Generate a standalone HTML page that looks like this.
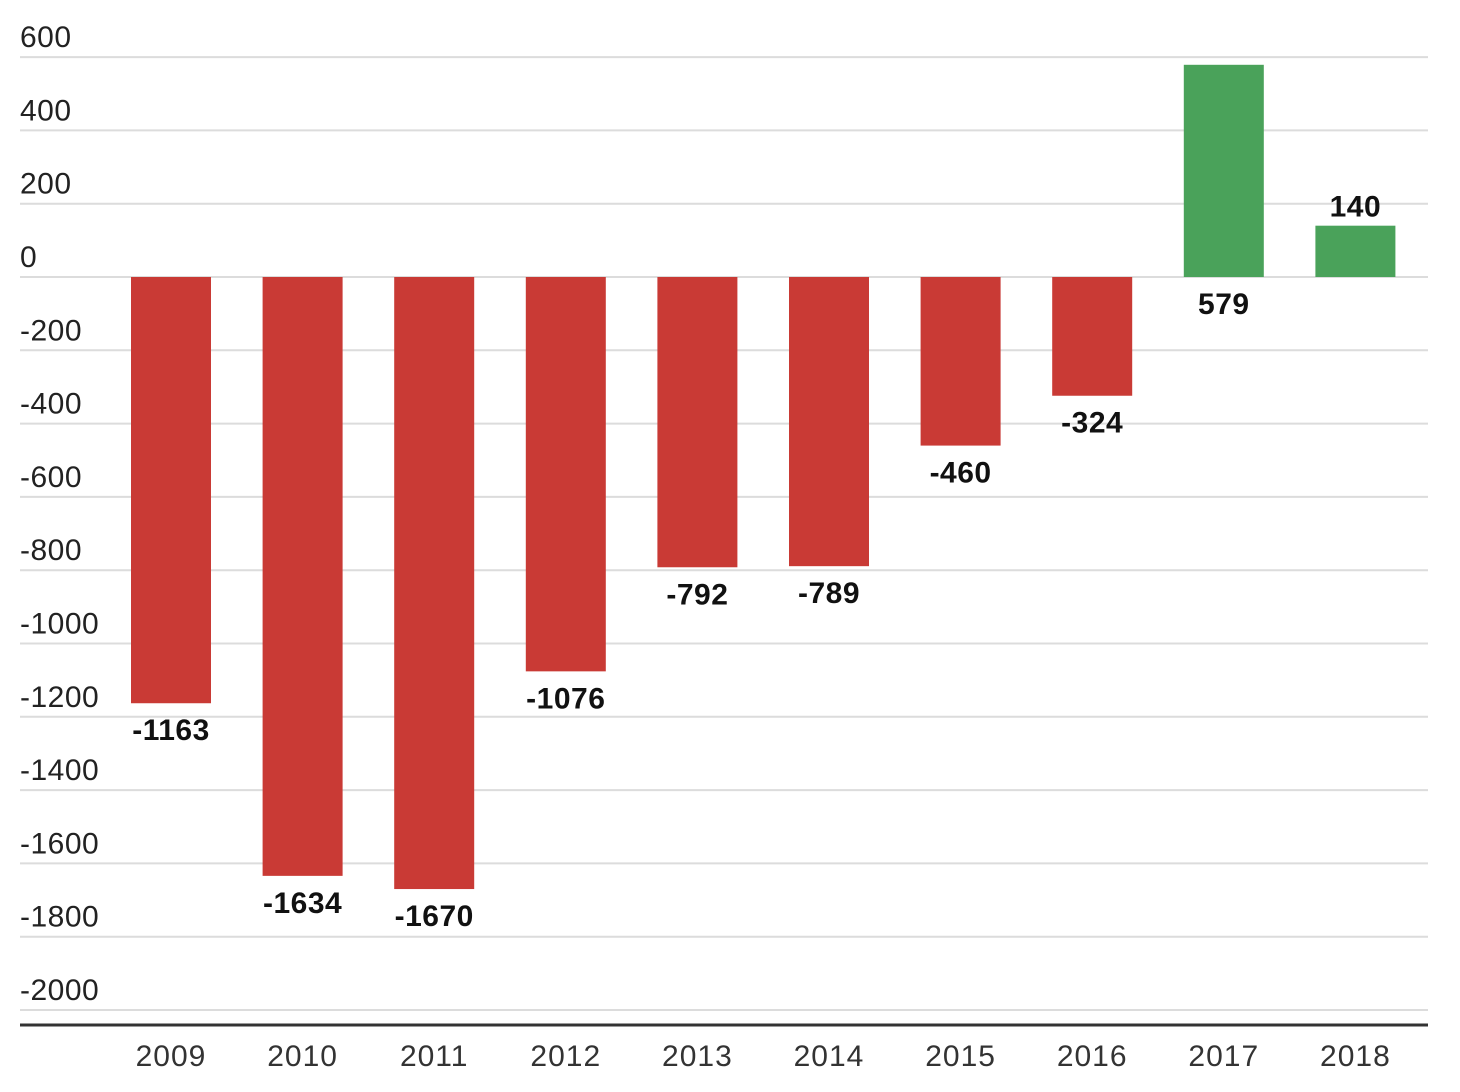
<!DOCTYPE html>
<html><head><meta charset="utf-8"><style>
html,body{margin:0;padding:0;background:#fff;}
svg{display:block;font-family:"Liberation Sans",Arial,sans-serif;}
</style></head><body>
<svg id="chart" width="1460" height="1092"></svg>
<script>
const categories=["2009","2010","2011","2012","2013","2014","2015","2016","2017","2018"];
const values=[-1163,-1634,-1670,-1076,-792,-789,-460,-324,579,140];
const tickValues=[600,400,200,0,-200,-400,-600,-800,-1000,-1200,-1400,-1600,-1800,-2000];
const NS="http://www.w3.org/2000/svg";
const svg=document.getElementById('chart');
const y=v=>277-v*0.3665;
const x=i=>171+i*131.6;
const bw=80;
function mk(t,a,txt){const e=document.createElementNS(NS,t);for(const k in a)e.setAttribute(k,a[k]);if(txt!==undefined)e.textContent=txt;svg.appendChild(e);return e;}
tickValues.forEach(v=>{
  const l=mk('line',{x1:20,x2:1428,y1:y(v),y2:y(v),stroke:'#dcdcdc','stroke-width':2});
  
  
  const t=mk('text',{x:20,y:y(v)-10,'font-size':30,'letter-spacing':0.5,fill:'#222'},String(v));
  
  
});
const ax=mk('line',{x1:20,x2:1428,y1:1025,y2:1025,stroke:'#333','stroke-width':3});


categories.forEach((c,i)=>{
  const v=values[i];
  const top=Math.min(y(v),y(0)), h=Math.abs(y(v)-y(0));
  const r=mk('rect',{x:x(i)-bw/2,y:top,width:bw,height:h,fill:v<0?'#c93a35':'#4aa25a'});
  
  
  let ly;
  if(v<0) ly=y(v)+37;
  else if(v>300) ly=y(0)+37;
  else ly=y(v)-9;
  const t=mk('text',{x:x(i),y:ly,'font-size':30,'font-weight':'bold','letter-spacing':0.5,'text-anchor':'middle',fill:'#111'},String(v));
  
  
  const xl=mk('text',{x:x(i),y:1066,'font-size':30,'letter-spacing':1,'text-anchor':'middle',fill:'#333'},c);
  
  
});
</script>
</body></html>
